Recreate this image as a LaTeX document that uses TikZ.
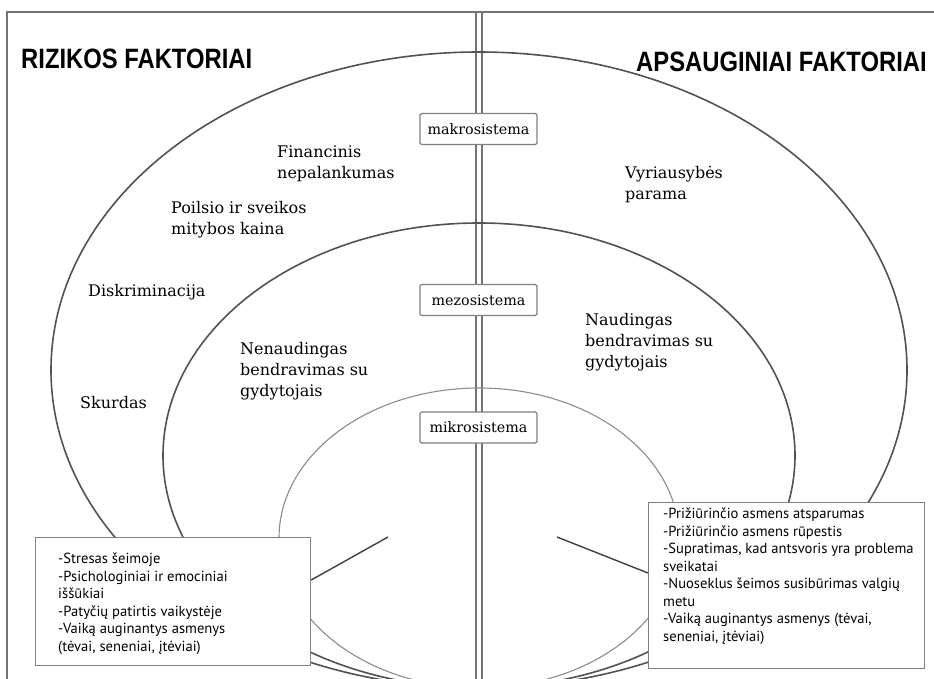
\documentclass[tikz,border=0pt]{standalone}
\usepackage{graphicx}
\usepackage{fontspec}
\setmainfont{DejaVu Serif}
\newfontfamily\boxfont{PT Sans}
\newfontfamily\headfont{Liberation Sans}
\begin{document}
\begin{tikzpicture}[x=1pt,y=-1pt,
  frame/.style={draw=black!55, line width=1.4pt},
  ring/.style={draw=black!68, line width=1.6pt},
  innerring/.style={draw=black!45, line width=1.1pt},
  sysbox/.style={draw=black!50, line width=1.1pt, fill=white, rounded corners=1.5pt, minimum width=117pt, minimum height=31pt, inner sep=0pt, text=black, font=\fontsize{14.3pt}{16pt}\selectfont},
  factor/.style={anchor=north west, align=left, inner sep=0pt, text=black, font=\fontsize{16pt}{21pt}\selectfont},
  listbox/.style={draw=black!50, line width=1.2pt, fill=white, inner sep=0pt, anchor=north west},
  listtext/.style={anchor=north west, align=left, inner sep=0pt, text=black, font=\boxfont\fontsize{14.6pt}{17.5pt}\selectfont},
  heading/.style={anchor=base west, inner sep=0pt, font=\headfont\bfseries\fontsize{28pt}{28pt}\selectfont},
  leg/.style={draw=black!75, line width=1.4pt}
]
\useasboundingbox (0,0) rectangle (934,679);
\fill[white] (0,0) rectangle (934,679);

% frame
\draw[frame] (7,679) -- (7,12) -- (934,12);
\draw[frame, line width=1.1pt] (476,12) -- (476,679);
\draw[frame, line width=1.1pt] (482,12) -- (482,679);

% headings
\node[heading] (risk) at (21,69) {\scalebox{0.85}[1]{RIZIKOS FAKTORIAI}};
\node[heading] (prot) at (636,72) {\scalebox{0.85}[1]{APSAUGINIAI FAKTORIAI}};

% rings
\begin{scope}
\clip (0,0) rectangle (934,679);
\draw[ring] (479,370) ellipse [x radius=428pt, y radius=318pt];
\draw[ring] (479,455.5) ellipse [x radius=316pt, y radius=232.5pt];
\draw[innerring] (479,538) ellipse [x radius=200pt, y radius=150pt];
\end{scope}

% system labels
\node[sysbox] (makro) at (478.5,129) {makrosistema};
\node[sysbox] (mezo) at (478.5,300) {mezosistema};
\node[sysbox] (mikro) at (478.5,427.5) {mikrosistema};

% factors
\node[factor] (fin) at (277,146) {Financinis\\nepalankumas};
\node[factor] (poil) at (171,201) {Poilsio ir sveikos\\mitybos kaina};
\node[factor] (disk) at (88,284) {Diskriminacija};
\node[factor] (skur) at (80,396) {Skurdas};
\node[factor] (nen) at (240,342) {Nenaudingas\\bendravimas su\\gydytojais};
\node[factor] (vyr) at (625,166) {Vyriausybės\\parama};
\node[factor] (naud) at (585,313) {Naudingas\\bendravimas su\\gydytojais};

% list boxes
\node[listbox, minimum width=275pt, minimum height=128pt] (lbox) at (35,537) {};
\node[listbox, minimum width=276pt, minimum height=166pt] (rbox) at (648,502) {};
\node[listtext] (ltext) at (58,553) {-Stresas šeimoje\\-Psichologiniai ir emociniai\\iššūkiai\\-Patyčių patirtis vaikystėje\\-Vaiką auginantys asmenys\\(tėvai, seneniai, įtėviai)};
\node[listtext] (rtext) at (663,508) {-Prižiūrinčio asmens atsparumas\\-Prižiūrinčio asmens rūpestis\\-Supratimas, kad antsvoris yra problema\\sveikatai\\-Nuoseklus šeimos susibūrimas valgių\\metu\\-Vaiką auginantys asmenys (tėvai,\\seneniai, įtėviai)};

% legs
\coordinate (lt) at (388,537);
\coordinate (rt) at (557,537);
\draw[leg] ([yshift=-43pt]lbox.north east) -- (lt);
\draw[leg] (rt) -- ([yshift=-71pt]rbox.north west);
\end{tikzpicture}
\end{document}
